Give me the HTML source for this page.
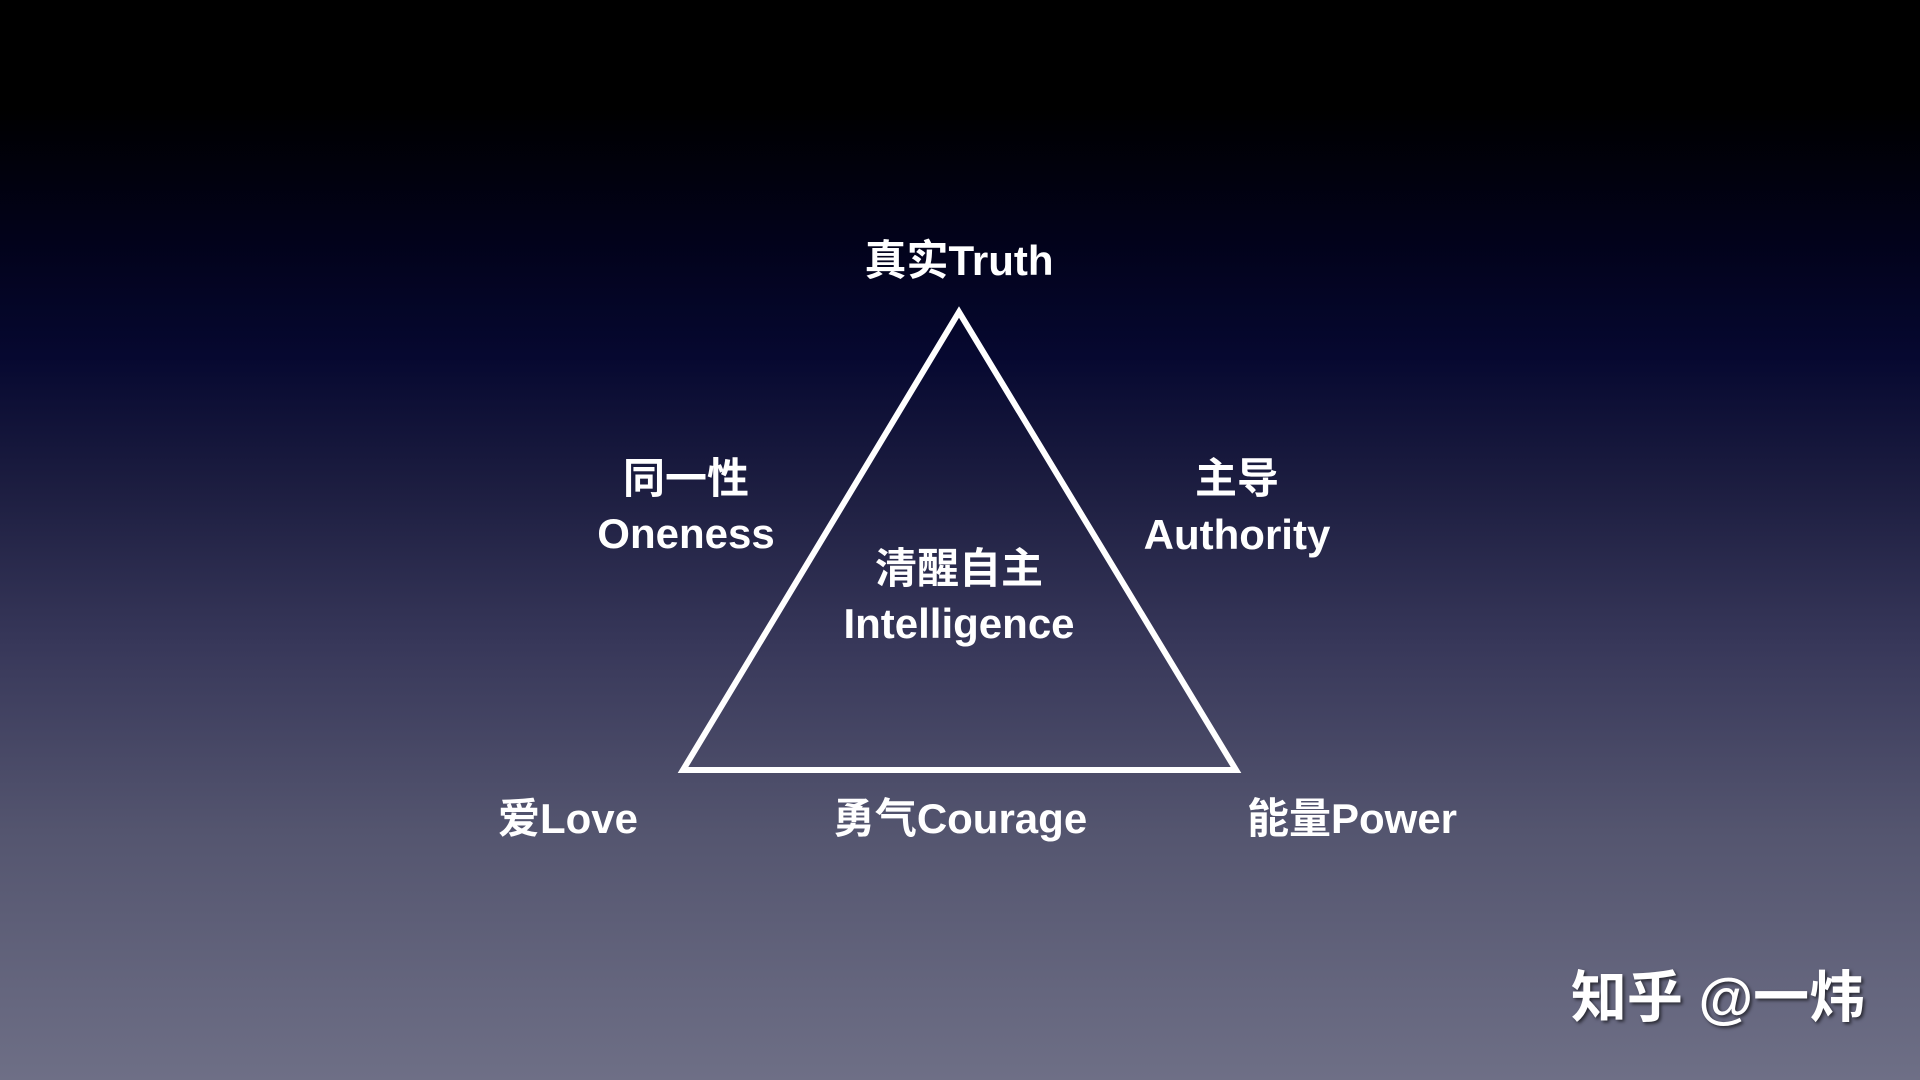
<!DOCTYPE html>
<html><head><meta charset="utf-8"><style>
html,body{margin:0;padding:0}
body{width:1920px;height:1080px;overflow:hidden;position:relative;
background:linear-gradient(to bottom,#000 0%,#000 10%,#02021a 22%,#060830 33%,#1c1d40 45%,#38385a 60%,#54556f 77%,#6e6f86 100%);
font-family:"Liberation Sans","Noto Sans CJK SC",sans-serif;font-weight:bold;color:#fff}
.t{position:absolute;transform:translate(-50%,-50%);white-space:nowrap;font-size:42px;line-height:1}
svg{position:absolute;left:0;top:0}
</style></head><body>
<svg width="1920" height="1080"><polygon points="959,312 683,770 1236,770" fill="none" stroke="#fff" stroke-width="6"/></svg>
<div class="t" style="left:959px;top:261px">真实Truth</div>
<div class="t" style="left:686px;top:479px">同一性</div>
<div class="t" style="left:686px;top:534px">Oneness</div>
<div class="t" style="left:1237px;top:479px">主导</div>
<div class="t" style="left:1237px;top:535px">Authority</div>
<div class="t" style="left:959px;top:569px">清醒自主</div>
<div class="t" style="left:959px;top:624px">Intelligence</div>
<div class="t" style="left:568px;top:819px">爱Love</div>
<div class="t" style="left:960px;top:819px">勇气Courage</div>
<div class="t" style="left:1352px;top:819px">能量Power</div>
<div class="t" style="left:1718px;top:998px;font-size:56px;text-shadow:2px 2px 3px rgba(0,0,0,0.6)">知乎 @一炜</div>
</body></html>
